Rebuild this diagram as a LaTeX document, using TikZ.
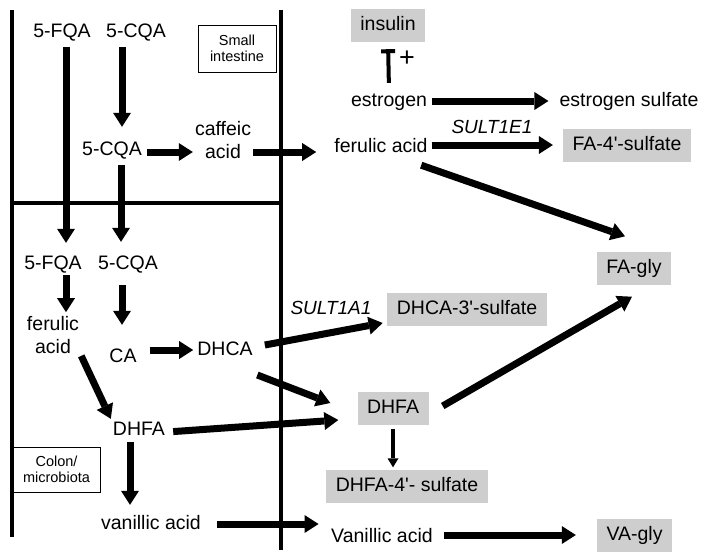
\documentclass[tikz,border=0pt]{standalone}
\usepackage{fontspec}
\setmainfont{Liberation Sans}
\usetikzlibrary{arrows.meta}
\definecolor{boxgray}{RGB}{206,206,206}

\begin{document}
\begin{tikzpicture}[x = 1pt, y = -1pt,
		every node/.style = {font=\fontsize{19.5}{23}\selectfont, inner sep=2pt, align=center},
		chem/.style = {text height=14pt, text depth=4pt},
		prod/.style = {chem, fill=boxgray, inner xsep=9.5pt, minimum height=33pt},
		region/.style = {draw, line width=1pt, font=\fontsize{14.5}{16}\selectfont},
		enz/.style = {font=\fontsize{19}{23}\selectfont\itshape},
		fat/.style = {line width=7pt, -{Triangle[length=14pt, width=18pt, line width=0pt]}},
		slim/.style = {line width=3.5pt, -{Triangle[length=9pt, width=11pt, line width=0pt]}},
		wall/.style = {line width=3.5pt}]
		\useasboundingbox (0,0) rectangle (708,555);
		\draw [wall] (12,10) -- (12,537);
		\draw [wall] (281,10) -- (281,550);
		\draw [wall] (12,203) -- (283,203);
		\node [region, minimum width=78pt, minimum height=47pt] (small) at (237,48.5) {Small\\intestine};
		\node [region, minimum width=87pt, minimum height=45pt] (colon) at (56.5,469.5) {Colon/\\microbiota};
		\node [chem] (fqaA) at (62,32) {5-FQA};
		\node [chem] (cqaA) at (136,32) {5-CQA};
		\node [chem] (cqaB) at (112,150) {5-CQA};
		\node (caffeic) at (223,140) {caffeic\\acid};
		\node [chem] (fqaC) at (53,264) {5-FQA};
		\node [chem] (cqaC) at (128,264) {5-CQA};
		\node (ferL) at (53,335) {ferulic\\acid};
		\node [chem] (ca) at (123,357) {CA};
		\node [chem] (dhca) at (225,350) {DHCA};
		\node [chem] (dhfaL) at (139,430) {DHFA};
		\node [chem] (vanL) at (151,524) {vanillic acid};
		\node [prod] (insulin) at (388,25.5) {insulin};
		\node [font=\fontsize{27}{27}\selectfont] (plus) at (407,59) {+};
		\node [chem] (estrogen) at (389,101) {estrogen};
		\node [chem] (estS) at (629,101) {estrogen sulfate};
		\node [enz] (sultE) at (492,127) {SULT1E1};
		\node [chem] (ferR) at (381,147) {ferulic acid};
		\node [prod] (fa4s) at (627,145) {FA-4\textquotesingle-sulfate};
		\node [prod] (fagly) at (634,268) {FA-gly};
		\node [enz] (sultA) at (331,308) {SULT1A1};
		\node [prod] (dhca3s) at (467,309.5) {DHCA-3\textquotesingle-sulfate};
		\node [prod] (dhfaR) at (393,408) {DHFA};
		\node [prod] (dhfa4s) at (407,486.5) {DHFA-4\textquotesingle- sulfate};
		\node [chem] (vanR) at (382,537) {Vanillic acid};
		\node [prod] (vagly) at (634.5,535) {VA-gly};
		\draw [fat, shorten <=4pt, shorten >=10pt] ([xshift=4pt]fqaA.south) -- ([xshift=4pt]fqaA.south |- fqaC.north);
		\draw [fat, shorten <=4pt, shorten >=12pt] ([xshift=-14pt]cqaA.south) -- ([xshift=-14pt]cqaA.south |- cqaB.north);
		\draw [fat, shorten <=3pt] ([yshift=-2pt]cqaB.east) -- ([yshift=-2pt]cqaB.east -| caffeic.west);
		\draw [fat, shorten >=16pt] ([yshift=-12pt]caffeic.east) -- ([yshift=-12pt]caffeic.east -| ferR.west);
		\draw [fat, shorten <=4pt, shorten >=11pt] ([xshift=9pt]cqaB.south) -- ([xshift=9pt]cqaB.south |- cqaC.north);
		\draw [fat, shorten >=2pt] ([xshift=13pt]fqaC.south) -- ([xshift=13pt]fqaC.south |- ferL.north);
		\draw [fat, shorten <=10pt, shorten >=21pt] ([xshift=-6pt]cqaC.south) -- ([xshift=-6pt]cqaC.south |- ca.north);
		\draw [fat, shorten <=11pt, shorten >=2pt] (ca.east |- dhca) -- (dhca.west);
		\draw [fat] (ferL.south east) -- (dhfaL.north west);
		\draw [fat, shorten <=6pt] ([yshift=-2pt]dhfaL.east) -- ([xshift=-19pt, yshift=-12pt]dhfaR.west);
		\draw [fat] ([xshift=2.5pt, yshift=-25pt]dhca.east) -- ([xshift=-27pt, yshift=5pt]dhfaR.west);
		\draw [fat] ([xshift=10pt, yshift=5pt]dhca.east) -- ([xshift=-4.5pt, yshift=-13.5pt]dhca3s.west);
		\draw [fat, shorten <=1pt, shorten >=8pt] ([xshift=-9pt]dhfaL.south) -- ([xshift=-9pt]dhfaL.south |- vanL.north);
		\draw [fat, shorten <=14pt, shorten >=10.5pt] (vanL.east) -- (vanL.east -| vanR.west);
		\draw [fat, shorten <=3pt, shorten >=9pt] (estrogen.east) -- (estS.west);
		\draw [fat, shorten <=2pt, shorten >=10pt] ([yshift=2pt]ferR.east) -- ([yshift=2pt]ferR.east -| fa4s.west);
		\draw [fat] ([xshift=-8.6pt, yshift=-7pt]ferR.south east) -- ([xshift=-9pt, yshift=15pt]fagly.north);
		\draw [fat] ([xshift=14pt, yshift=2pt]dhfaR.east) -- ([xshift=-2pt, yshift=-12pt]fagly.south);
		\draw [slim, shorten <=4.5pt, shorten >=2.5pt] (dhfaR.south) -- (dhfaR.south |- dhfa4s.north);
		\draw [fat, shorten <=9.5pt, shorten >=21pt] ([yshift=2pt]vanR.east) -- ([yshift=2pt]vanR.east -| vagly.west);
		\draw [line width=4pt, -{Bar[width=14pt]}, shorten <=7pt, shorten >=7pt] (estrogen.north) -- (insulin.south);
	\end{tikzpicture}
\end{document}
